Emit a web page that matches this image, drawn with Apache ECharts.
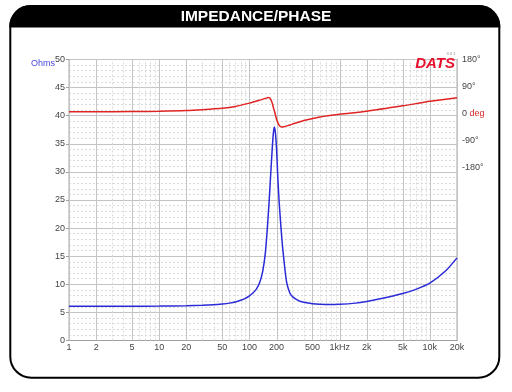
<!DOCTYPE html>
<html><head><meta charset="utf-8">
<script src="https://cdn.jsdelivr.net/npm/echarts@6/dist/echarts.min.js"></script>
<style>html,body{margin:0;padding:0;background:#fff}#c{width:512px;height:392px}</style>
</head><body><div id="c"></div>
<script>
// ---- data ----
const freqHz = [1,2,5,10,20,30,40,50,60,70,80,90,100,110,120,130,140,150,158,165,172,178,184,189,194,200,205,212,222,232,245,259,280,300,350,400,500,700,1000,1500,2000,3000,5000,7000,10000,15000,20000];
const impedanceOhm = [6.1,6.1,6.1,6.12,6.18,6.26,6.36,6.5,6.65,6.85,7.15,7.5,7.95,8.5,9.2,10.3,12.2,15.5,20,24.5,29.5,33.5,36.8,38,37,34,30,25.5,20.8,17,13.3,10.3,8.5,7.8,7.1,6.8,6.55,6.42,6.45,6.65,6.95,7.5,8.35,9.1,10.2,12.4,14.7];
const phaseFreqHz = [1,2,5,10,20,30,50,70,100,130,150,162,168,174,180,184,190,196,201,210,220,228,240,260,282,320,364,450,606,1000,2000,5000,10000,20000];
const phaseDeg = [5,5,6,7,9,12,17,23,34,44,50,53,51,44,32,20,6,-10,-22,-36,-44,-46,-45,-42,-39,-33,-28,-21,-12,-3,7,25,40,52];
const xTickValues = [1,2,5,10,20,50,100,200,500,1000,2000,5000,10000,20000];
const xTickLabels = ['1','2','5','10','20','50','100','200','500','1kHz','2k','5k','10k','20k'];
const gridMultipliers = [1,2,3,4,5,6,7,8,9];
const majorMultipliers = [1,2,5];
const decades = [1,10,100,1000,10000];
const phaseTickValues = [-180,-90,0,90,180];

// ---- build ----
const gridData = [];
decades.forEach(d => gridMultipliers.forEach(m => {
  const f = d * m;
  if (f <= 20000) gridData.push([f, majorMultipliers.indexOf(m) >= 0 ? 1 : 0]);
}));
const labelData = xTickValues.map((f, i) => [f, i]);

const chart = echarts.init(document.getElementById('c'), null, {renderer: 'canvas'});
const FONT = 'Liberation Sans, Arial, sans-serif';
chart.setOption({
  animation: false,
  backgroundColor: '#fff',
  grid: {left: 69, right: 55, top: 59.5, bottom: 51.5, show: true, borderColor: '#a8a8a8', borderWidth: 1},
  xAxis: {
    type: 'log', logBase: 10, min: 1, max: 20000,
    axisLine: {show: true, lineStyle: {color: '#a0a0a0'}},
    axisTick: {show: false}, axisLabel: {show: false}, splitLine: {show: false}, minorSplitLine: {show: false}
  },
  yAxis: [{
    type: 'value', min: 0, max: 50, interval: 5,
    axisLine: {show: true, lineStyle: {color: '#a0a0a0'}},
    axisTick: {show: true, length: 3, lineStyle: {color: '#a0a0a0'}},
    axisLabel: {color: '#444', fontSize: 9, fontFamily: FONT, margin: 4},
    splitLine: {show: true, lineStyle: {color: '#c4c4c4', width: 1}},
    minorTick: {show: false, splitNumber: 5},
    minorSplitLine: {show: true, lineStyle: {color: '#dadada', width: 1, type: [2, 2]}}
  }, {
    type: 'value', min: -760, max: 180, position: 'right',
    axisLine: {show: true, lineStyle: {color: '#a0a0a0'}},
    axisTick: {show: false},
    splitLine: {show: false},
    axisLabel: {
      customValues: phaseTickValues, fontSize: 9, fontFamily: FONT, color: '#444', margin: 5,
      formatter: v => v === 0 ? '{k|0} {r|deg}' : v + '°',
      rich: {k: {color: '#444', fontSize: 9, fontFamily: FONT}, r: {color: '#d82828', fontSize: 9, fontFamily: FONT}}
    }
  }],
  series: [{
    name: 'grid', type: 'custom', z: 1, silent: true, clip: false,
    xAxisIndex: 0, yAxisIndex: 0, encode: {x: 0, y: 1},
    data: gridData,
    renderItem: (params, api) => {
      const f = api.value(0), major = api.value(1);
      const p0 = api.coord([f, 0]), p1 = api.coord([f, 50]);
      const x = Math.round(p0[0]) + 0.5;
      return {type: 'line', shape: {x1: x, y1: p0[1], x2: x, y2: p1[1]},
        style: {stroke: major ? '#c4c4c4' : '#dadada', lineWidth: 1, lineDash: major ? null : [2, 2]}};
    }
  }, {
    name: 'xlabels', type: 'custom', z: 3, silent: true, clip: false,
    xAxisIndex: 0, yAxisIndex: 0, encode: {x: 0, y: 1},
    data: labelData,
    renderItem: (params, api) => {
      const f = api.value(0);
      const p = api.coord([f, 0]);
      return {type: 'text', x: p[0], y: p[1] + 3,
        style: {text: xTickLabels[params.dataIndex], fill: '#444', font: '9px ' + FONT, textAlign: 'center', textVerticalAlign: 'top'}};
    }
  }, {
    name: 'Impedance', type: 'line', z: 4, xAxisIndex: 0, yAxisIndex: 0,
    data: freqHz.map((f, i) => [f, impedanceOhm[i]]),
    showSymbol: false, smooth: 0.25,
    lineStyle: {color: '#2a2ad8', width: 1.5}
  }, {
    name: 'Phase', type: 'line', z: 4, xAxisIndex: 0, yAxisIndex: 1,
    data: phaseFreqHz.map((f, i) => [f, phaseDeg[i]]),
    showSymbol: false, smooth: 0.25,
    lineStyle: {color: '#e02424', width: 1.5}
  }],
  graphic: [
    {type: 'rect', shape: {x: 10.3, y: 6, width: 489, height: 371.7, r: 21}, style: {fill: null, stroke: '#000', lineWidth: 2}, z: 10},
    {type: 'rect', shape: {x: 9.3, y: 5, width: 491, height: 22.5, r: [21, 21, 0, 0]}, style: {fill: '#000'}, z: 11},
    {type: 'text', x: 256, y: 16.5, style: {text: 'IMPEDANCE/PHASE', fill: '#fff', font: 'bold 15.5px ' + FONT, textAlign: 'center', textVerticalAlign: 'middle'}, z: 12},
    {type: 'text', x: 31, y: 64, style: {text: 'Ohms', fill: '#4848e0', font: '9px ' + FONT, textAlign: 'left', textVerticalAlign: 'middle'}, z: 12},
    {type: 'text', x: 455, y: 63.5, style: {text: 'DATS', fill: '#e8102c', font: 'italic bold 15px ' + FONT, textAlign: 'right', textVerticalAlign: 'middle'}, z: 12},
    {type: 'text', x: 451, y: 53.5, style: {text: '3 0 1', fill: '#888', font: '4px ' + FONT, textAlign: 'center', textVerticalAlign: 'middle'}, z: 12}
  ]
});
</script></body></html>
